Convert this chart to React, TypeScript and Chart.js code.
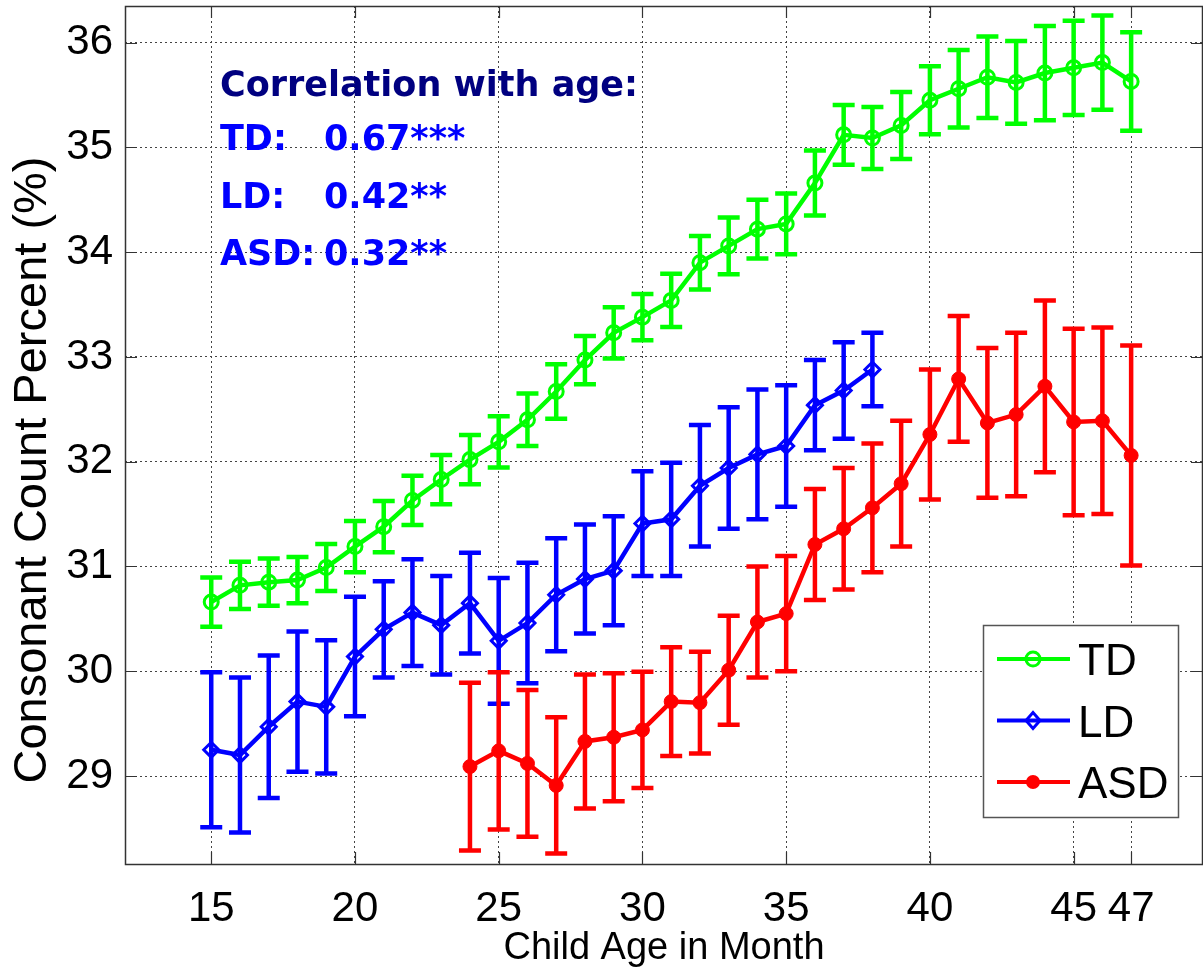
import { useEffect, useRef } from "react";
import { Chart, registerables } from "chart.js";

Chart.register(...registerables);

// ---------- data ----------
const tdMonths = [15, 16, 17, 18, 19, 20, 21, 22, 23, 24, 25, 26, 27, 28, 29, 30, 31, 32, 33, 34, 35, 36, 37, 38, 39, 40, 41, 42, 43, 44, 45, 46, 47];
const tdValues = [30.66, 30.82, 30.85, 30.87, 30.99, 31.19, 31.38, 31.63, 31.83, 32.02, 32.19, 32.40, 32.67, 32.97, 33.23, 33.38, 33.54, 33.90, 34.06, 34.22, 34.27, 34.66, 35.12, 35.09, 35.21, 35.45, 35.56, 35.67, 35.62, 35.71, 35.76, 35.81, 35.63];
const tdErrors = [0.235, 0.225, 0.225, 0.22, 0.225, 0.245, 0.245, 0.235, 0.235, 0.235, 0.245, 0.25, 0.26, 0.23, 0.245, 0.22, 0.255, 0.255, 0.27, 0.28, 0.29, 0.31, 0.285, 0.295, 0.32, 0.325, 0.37, 0.39, 0.395, 0.45, 0.45, 0.45, 0.47];

const ldMonths = [15, 16, 17, 18, 19, 20, 21, 22, 23, 24, 25, 26, 27, 28, 29, 30, 31, 32, 33, 34, 35, 36, 37, 38];
const ldValues = [29.25, 29.20, 29.47, 29.71, 29.66, 30.14, 30.40, 30.56, 30.44, 30.65, 30.29, 30.46, 30.73, 30.88, 30.96, 31.41, 31.45, 31.77, 31.94, 32.07, 32.15, 32.54, 32.68, 32.88];
const ldErrors = [0.74, 0.74, 0.68, 0.67, 0.635, 0.57, 0.46, 0.51, 0.47, 0.48, 0.6, 0.575, 0.54, 0.52, 0.52, 0.5, 0.54, 0.58, 0.58, 0.62, 0.58, 0.43, 0.46, 0.35];

const asdMonths = [24, 25, 26, 27, 28, 29, 30, 31, 32, 33, 34, 35, 36, 37, 38, 39, 40, 41, 42, 43, 44, 45, 46, 47];
const asdValues = [29.09, 29.24, 29.12, 28.91, 29.33, 29.37, 29.44, 29.71, 29.70, 30.01, 30.47, 30.55, 31.21, 31.36, 31.56, 31.79, 32.26, 32.79, 32.37, 32.45, 32.72, 32.38, 32.39, 32.06];
const asdErrors = [0.8, 0.75, 0.7, 0.65, 0.64, 0.61, 0.555, 0.52, 0.485, 0.52, 0.53, 0.55, 0.53, 0.58, 0.615, 0.6, 0.62, 0.6, 0.715, 0.78, 0.82, 0.89, 0.89, 1.05];

const seriesLabels = ["TD", "LD", "ASD"];
const xTickValues = [15, 20, 25, 30, 35, 40, 45, 47];
const yTickValues = [29, 30, 31, 32, 33, 34, 35, 36];
const xTitle = "Child Age in Month";
const yTitle = "Consonant Count Percent (%)";
const correlationTitle = "Correlation with age:";
const correlationLabels = ["TD:", "LD:", "ASD:"];
const correlationValues = ["0.67***", "0.42**", "0.32**"];

// ---------- styles ----------
const COLORS = ["#00ff00", "#0000ff", "#ff0000"];
const FONT = "'Liberation Sans', Arial, Helvetica, sans-serif";
const ANN_FONT = "'DejaVu Sans', Verdana, sans-serif";

const seriesMonths = [tdMonths, ldMonths, asdMonths];
const seriesValues = [tdValues, ldValues, asdValues];
const seriesErrors = [tdErrors, ldErrors, asdErrors];

function drawMarker(ctx: CanvasRenderingContext2D, kind: number, x: number, y: number, color: string) {
  ctx.save();
  ctx.strokeStyle = color;
  ctx.fillStyle = color;
  ctx.lineWidth = 3;
  ctx.beginPath();
  if (kind === 0) {
    ctx.arc(x, y, 7, 0, Math.PI * 2);
    ctx.stroke();
  } else if (kind === 1) {
    ctx.moveTo(x - 7, y);
    ctx.lineTo(x, y - 8);
    ctx.lineTo(x + 7, y);
    ctx.lineTo(x, y + 8);
    ctx.closePath();
    ctx.stroke();
  } else {
    ctx.arc(x, y, 7, 0, Math.PI * 2);
    ctx.fill();
  }
  ctx.restore();
}

const errorBarPlugin = {
  id: "errorBars",
  beforeDatasetsDraw(chart: any) {
    const ctx = chart.ctx as CanvasRenderingContext2D;
    const xs = chart.scales.x;
    const ys = chart.scales.y;
    ctx.save();
    ctx.lineWidth = 4.5;
    ctx.lineCap = "butt";
    for (let s = 0; s < seriesMonths.length; s++) {
      ctx.strokeStyle = COLORS[s];
      const months = seriesMonths[s];
      for (let i = 0; i < months.length; i++) {
        const x = xs.getPixelForValue(months[i]);
        const yt = ys.getPixelForValue(seriesValues[s][i] + seriesErrors[s][i]);
        const yb = ys.getPixelForValue(seriesValues[s][i] - seriesErrors[s][i]);
        ctx.beginPath();
        ctx.moveTo(x, yt);
        ctx.lineTo(x, yb);
        ctx.moveTo(x - 11, yt);
        ctx.lineTo(x + 11, yt);
        ctx.moveTo(x - 11, yb);
        ctx.lineTo(x + 11, yb);
        ctx.stroke();
      }
    }
    ctx.restore();
  },
};

const decorPlugin = {
  id: "decor",
  afterDraw(chart: any) {
    const ctx = chart.ctx as CanvasRenderingContext2D;
    const a = chart.chartArea;
    const xs = chart.scales.x;
    const ys = chart.scales.y;
    ctx.save();
    // inward tick marks
    ctx.strokeStyle = "#333";
    ctx.lineWidth = 1.2;
    ctx.beginPath();
    for (const v of xTickValues) {
      const x = Math.round(xs.getPixelForValue(v)) + 0.5;
      ctx.moveTo(x, a.bottom);
      ctx.lineTo(x, a.bottom - 12);
      ctx.moveTo(x, a.top);
      ctx.lineTo(x, a.top + 12);
    }
    for (const v of yTickValues) {
      const y = Math.round(ys.getPixelForValue(v)) + 0.5;
      ctx.moveTo(a.left, y);
      ctx.lineTo(a.left + 12, y);
      ctx.moveTo(a.right, y);
      ctx.lineTo(a.right - 12, y);
    }
    ctx.stroke();
    // box
    ctx.strokeStyle = "#333";
    ctx.lineWidth = 1.5;
    ctx.strokeRect(a.left + 0.5, a.top + 0.5, a.right - a.left - 1, a.bottom - a.top);

    // y axis title
    ctx.save();
    ctx.translate(33, 470);
    ctx.rotate(-Math.PI / 2);
    ctx.font = `47px ${FONT}`;
    ctx.fillStyle = "#000";
    ctx.textAlign = "center";
    ctx.textBaseline = "middle";
    ctx.fillText(yTitle, 0, 0);
    ctx.restore();

    // correlation annotation
    ctx.textBaseline = "alphabetic";
    ctx.textAlign = "left";
    ctx.font = `bold 35px ${ANN_FONT}`;
    ctx.fillStyle = "#000080";
    const tx = a.left + 95;
    ctx.fillText(correlationTitle, tx, a.top + 90);
    ctx.fillStyle = "#0000ff";
    for (let i = 0; i < correlationLabels.length; i++) {
      const by = a.top + 144 + i * 57.5;
      ctx.fillText(correlationLabels[i], tx, by);
      ctx.fillText(correlationValues[i], tx + 104, by);
    }

    // legend
    const bw = 195;
    const bh = 192;
    const bx = a.right - 25 - bw;
    const by = a.bottom - 47 - bh;
    ctx.fillStyle = "#ffffff";
    ctx.fillRect(bx, by, bw, bh);
    ctx.strokeStyle = "#555";
    ctx.lineWidth = 1.5;
    ctx.strokeRect(bx + 0.5, by + 0.5, bw, bh);
    for (let i = 0; i < seriesLabels.length; i++) {
      const ly = by + 34 + i * 61.5;
      ctx.strokeStyle = COLORS[i];
      ctx.lineWidth = 4;
      ctx.beginPath();
      ctx.moveTo(bx + 14, ly);
      ctx.lineTo(bx + 87, ly);
      ctx.stroke();
      drawMarker(ctx, i, bx + 50, ly, COLORS[i]);
      ctx.fillStyle = "#000";
      ctx.font = `44px ${FONT}`;
      ctx.textBaseline = "middle";
      ctx.textAlign = "left";
      ctx.fillText(seriesLabels[i], bx + 95, ly + 4);
    }
    ctx.restore();
  },
};

export default function App() {
  const ref = useRef<HTMLCanvasElement | null>(null);

  useEffect(() => {
    if (!ref.current) return;
    const makeData = (s: number) => seriesMonths[s].map((m, i) => ({ x: m, y: seriesValues[s][i] }));
    const chart = new Chart(ref.current, {
      type: "line",
      data: {
        datasets: [0, 1, 2].map((s) => ({
          label: seriesLabels[s],
          data: makeData(s),
          borderColor: COLORS[s],
          borderWidth: 4.5,
          backgroundColor: COLORS[s],
          pointStyle: s === 1 ? "rectRot" : "circle",
          pointRadius: s === 1 ? 7.5 : 7,
          pointBorderWidth: s === 2 ? 1 : 3,
          pointBorderColor: COLORS[s],
          pointBackgroundColor: s === 2 ? COLORS[s] : "rgba(0,0,0,0)",
          tension: 0,
          fill: false,
        })),
      },
      options: {
        animation: false,
        responsive: false,
        events: [],
        layout: { autoPadding: false, padding: { left: 0, right: 0, top: 6, bottom: 0 } },
        plugins: {
          legend: { display: false },
          tooltip: { enabled: false },
        },
        scales: {
          x: {
            type: "linear",
            min: 12,
            max: 49.5,
            afterBuildTicks: (axis: any) => {
              axis.ticks = xTickValues.map((v) => ({ value: v }));
            },
            afterFit: (axis: any) => {
              axis.height = 107;
              axis.paddingLeft = 0;
              axis.paddingRight = 0;
            },
            grid: { color: "#444", lineWidth: 1, drawTicks: false },
            border: { display: false, dash: [2, 3] },
            ticks: {
              color: "#000",
              font: { family: FONT, size: 42 },
              padding: 20,
              maxRotation: 0,
              autoSkip: false,
              callback: (v: any) => String(v),
            },
            title: {
              display: true,
              text: xTitle,
              color: "#000",
              font: { family: FONT, size: 38 },
              padding: { top: 4, bottom: 0 },
            },
          },
          y: {
            type: "linear",
            min: 28.16,
            max: 36.35,
            afterBuildTicks: (axis: any) => {
              axis.ticks = yTickValues.map((v) => ({ value: v }));
            },
            afterFit: (axis: any) => {
              axis.width = 125;
              axis.paddingTop = 0;
              axis.paddingBottom = 0;
            },
            grid: { color: "#444", lineWidth: 1, drawTicks: false },
            border: { display: false, dash: [2, 3] },
            ticks: {
              color: "#000",
              font: { family: FONT, size: 42 },
              padding: 12,
              autoSkip: false,
              callback: (v: any) => String(v),
            },
            title: { display: false },
          },
        },
      },
      plugins: [errorBarPlugin, decorPlugin],
    } as any);
    return () => chart.destroy();
  }, []);

  return (
    <div style={{ position: "absolute", left: 0, top: 0, width: 1203, height: 971, background: "#fff" }}>
      <canvas ref={ref} width={1203} height={971} />
    </div>
  );
}
